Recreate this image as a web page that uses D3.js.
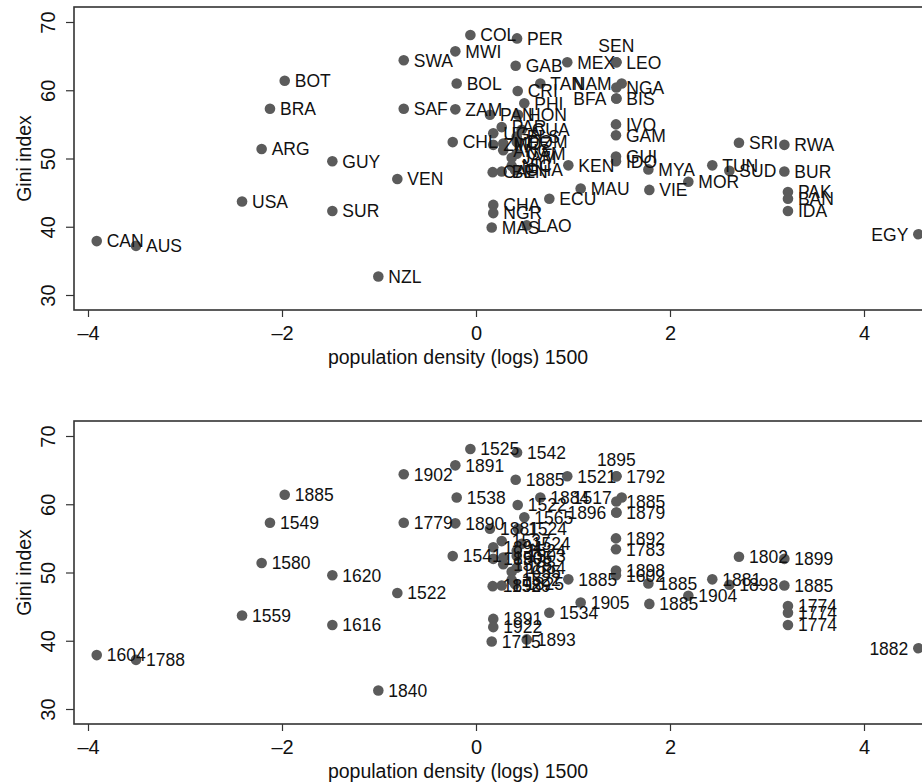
<!DOCTYPE html>
<html>
<head>
<meta charset="utf-8">
<script src="https://cdn.jsdelivr.net/npm/d3@7"></script>
<style>
  body { margin: 0; background: #fff; }
  svg { display: block; font-family: "Liberation Sans", Arial, sans-serif; }
</style>
</head>
<body>
<div id="chart"></div>
<script>
// country codes, founding/colonisation years, log density 1500, gini
const codes = ['CAN','AUS','USA','ARG','BRA','BOT','GUY','SUR','NZL','VEN','SWA','SAF',
  'COL','PER','MWI','GAB','MEX','LEO','SEN','BOL','CRI','TAN','NAM','NGA','BFA','BIS',
  'PHI','ZAM','PAN','HON','CHL','KEN','ECU','MAU','CHA','NGR','MAS','LAO',
  'IVO','GAM','GUI','IDO','MYA','VIE','MOR','TUN','SUD','SRI','RWA','BUR','PAK','BAN','IDA','EGY',
  'PAR','GUA','UGA','ELS','DOM','ZIM','JAM','CAM','MOZ','ANG','NIC','CAF','BEN','GHA'];
const years = [1604,1788,1559,1580,1549,1885,1620,1616,1840,1522,1902,1779,
  1525,1542,1891,1885,1521,1792,1895,1538,1522,1884,1517,1885,1896,1879,
  1565,1890,1881,1524,1541,1885,1534,1905,1891,1922,1715,1893,
  1892,1783,1898,1602,1885,1885,1904,1881,1898,1802,1899,1885,1774,1774,1774,1882,
  1537,1524,1894,1524,1503,1890,1655,1884,1505,1575,1522,1898,1529,1825];
const density = [-3.91,-3.505,-2.412,-2.21,-2.124,-1.972,-1.481,-1.481,-1.007,-0.811,-0.745,-0.745,
  -0.058,0.423,-0.213,0.409,0.941,1.447,1.447,-0.199,0.43,0.663,1.502,1.447,1.447,1.447,
  0.498,-0.213,0.144,0.433,-0.24,0.952,0.756,1.079,0.178,0.178,0.162,0.523,
  1.443,1.443,1.443,1.443,1.777,1.787,2.189,2.436,2.612,2.711,3.179,3.179,3.216,3.216,3.216,4.56,
  0.265,0.471,0.178,0.42,0.42,0.178,0.368,0.42,0.281,0.281,0.368,0.172,0.265,0.402];
const gini = [37.9,37.2,43.7,51.4,57.3,61.4,49.6,42.3,32.7,47.0,64.4,57.3,
  68.1,67.6,65.7,63.6,64.1,64.1,64.1,61.0,59.9,61.0,61.0,60.4,58.8,58.8,
  58.1,57.2,56.4,56.4,52.4,49.0,44.1,45.6,43.2,42.0,39.9,40.2,
  55.0,53.4,50.3,49.6,48.4,45.4,46.6,49.0,48.2,52.3,52.0,48.1,45.1,44.1,42.3,38.9,
  54.6,54.2,53.7,53.2,52.4,52.0,50.1,50.7,52.2,51.2,48.9,48.0,48.1,48.3];
const leftLabelled = ['NAM','BFA','EGY'];
const aboveLabelled = ['SEN'];
const xTicks = [-4, -2, 0, 2, 4];
const yTicks = [30, 40, 50, 60, 70];

const W = 922, H = 784;
const svg = d3.select('#chart').append('svg').attr('width', W).attr('height', H);

const x = d3.scaleLinear().domain([-4, 4]).range([88, 864]);
const points = codes.map((c, i) => ({ code: c, year: years[i], x: density[i], y: gini[i] }));

function drawPanel(top, labelOf) {
    const frameTop = top, frameBottom = top + 303;
    const y = d3.scaleLinear().domain([30, 70]).range([top + 288, top + 15]);
    const g = svg.append('g');

    g.append('rect')
        .attr('x', 74).attr('y', frameTop)
        .attr('width', 900).attr('height', frameBottom - frameTop)
        .attr('fill', 'none').attr('stroke', '#333').attr('stroke-width', 1.6);

    const xa = g.append('g')
        .attr('transform', `translate(0,${frameBottom})`)
        .call(d3.axisBottom(x).tickValues(xTicks).tickSize(7).tickPadding(9).tickFormat(d3.format('d')));
    xa.select('.domain').remove();
    xa.selectAll('line').attr('stroke', '#333').attr('stroke-width', 1.2);
    xa.selectAll('text').attr('font-size', 20).attr('fill', '#111')
        .attr('font-family', '"Liberation Sans", Arial, sans-serif')
        .text(d => d < 0 ? '\u2013' + Math.abs(d) : d);

    const ya = g.append('g')
        .attr('transform', 'translate(74,0)')
        .call(d3.axisLeft(y).tickValues(yTicks).tickSize(8));
    ya.select('.domain').remove();
    ya.selectAll('line').attr('stroke', '#333').attr('stroke-width', 1.2);
    ya.selectAll('text').attr('font-size', 20).attr('fill', '#111')
        .attr('font-family', '"Liberation Sans", Arial, sans-serif')
        .attr('x', null).attr('dy', null)
        .attr('text-anchor', 'middle')
        .attr('transform', 'translate(-19,0) rotate(-90)');

    g.append('text')
        .attr('transform', `translate(31,${(y(30) + y(70)) / 2}) rotate(-90)`)
        .attr('text-anchor', 'middle').attr('font-size', 19.5).attr('fill', '#111')
        .text('Gini index');

    g.append('text')
        .attr('x', 458).attr('y', frameBottom + 54)
        .attr('text-anchor', 'middle').attr('font-size', 19.5).attr('fill', '#111')
        .text('population density (logs) 1500');

    const pts = g.append('g');
    pts.selectAll('circle')
        .data(points)
        .enter()
        .append('circle')
        .attr('cx', d => x(d.x))
        .attr('cy', d => y(d.gini === undefined ? d.y : d.y))
        .attr('r', 5.3)
        .attr('fill', '#5b5b5b');

    pts.selectAll('text')
        .data(points)
        .enter()
        .append('text')
        .attr('font-size', 17.5)
        .attr('fill', '#111')
        .attr('x', d => {
            if (leftLabelled.includes(d.code)) return x(d.x) - 10;
            if (aboveLabelled.includes(d.code)) return x(d.x);
            return x(d.x) + 10;
        })
        .attr('y', d => aboveLabelled.includes(d.code) ? y(d.y) - 10 : y(d.y) + 6.3)
        .attr('text-anchor', d => leftLabelled.includes(d.code) ? 'end' : (aboveLabelled.includes(d.code) ? 'middle' : 'start'))
        .text(labelOf);
}

drawPanel(7, d => d.code);
drawPanel(421, d => d.year);
</script>
</body>
</html>
